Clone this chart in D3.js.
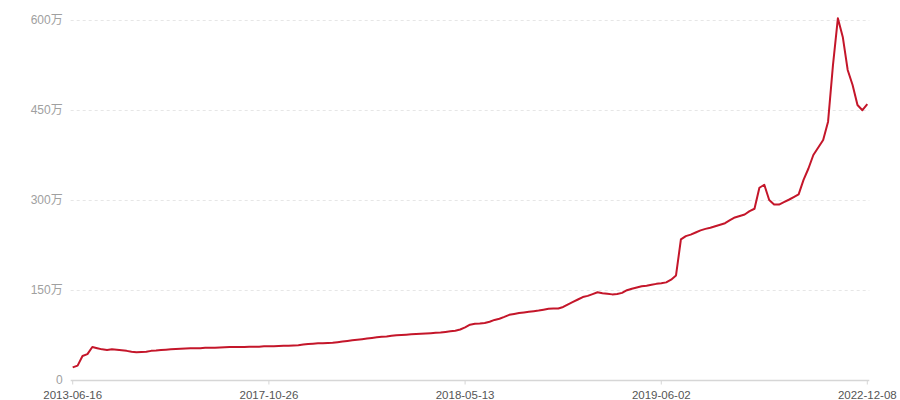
<!DOCTYPE html>
<html>
<head>
<meta charset="utf-8">
<script src="https://cdn.jsdelivr.net/npm/d3@7"></script>
<style>
  html, body { margin: 0; padding: 0; background: #fff; }
  svg text { font-family: "Liberation Sans", "Noto Sans CJK SC", sans-serif; }
</style>
</head>
<body>
<svg id="chart"></svg>
<script>
// values in 万, one per sample (evenly spaced on the category axis)
const values = [
  21, 24, 40, 43, 55, 53, 51, 50, 51, 50.5,
  49.5, 48.5, 47, 46, 46.5, 47, 48.5, 49, 50, 50.5,
  51, 51.5, 52, 52.5, 53, 53, 53, 53.5, 53.5, 53.5,
  54, 54.5, 55, 55, 55, 55, 55.5, 55.5, 55.5, 56,
  56, 56, 56.5, 57, 57, 57.5, 58, 59, 60, 60.5,
  61, 61, 61.5, 62, 63, 64, 65, 66, 67, 68,
  69, 70, 71, 72, 72.5, 73.5, 74.5, 75, 75.5, 76,
  76.5, 77, 77.5, 78, 78.5, 79, 80, 81, 82, 84,
  87.5, 92, 93.5, 94, 95, 97, 100, 102, 105, 108.5,
  110, 111.5, 112.5, 113.5, 114.5, 115.5, 117, 118.5, 119, 119,
  121.5, 126, 130, 134, 138, 140, 143, 146, 144.5, 143.5,
  142.5, 143, 145, 149.5, 152, 154, 156, 157, 158.5, 160,
  161, 162.5, 167, 174, 234, 239.5, 242, 245.5, 249, 251.5,
  253.5, 256, 258.5, 261, 266, 270.5, 273, 275.5, 281, 285,
  320, 325, 299.5, 292, 292, 296, 300, 304.5, 309, 333,
  352, 374.5, 387, 399.5, 430, 524, 602, 571, 516, 491,
  457.7, 449, 459
];
// x-axis labels and the sample index they sit on
const tickLabels = ["2013-06-16", "2017-10-26", "2018-05-13", "2019-06-02", "2022-12-08"];
const tickIndex = [0, 40, 80, 120, 162];
const yTicks = [0, 150, 300, 450, 600];

const width = 900, height = 400;
const margin = { top: 19.5, right: 32.7, bottom: 20, left: 72.7 };

const svg = d3.select("#chart")
    .attr("width", width)
    .attr("height", height);

const x = d3.scaleLinear()
    .domain([0, values.length - 1])
    .range([margin.left, width - margin.right]);

const y = d3.scaleLinear()
    .domain([0, 600])
    .range([height - margin.bottom, margin.top]);

// dashed split lines
svg.append("g")
    .selectAll("line")
    .data(yTicks.filter(d => d > 0))
    .join("line")
    .attr("x1", margin.left - 2)
    .attr("x2", width - margin.right + 2)
    .attr("y1", d => Math.round(y(d)) + 0.5)
    .attr("y2", d => Math.round(y(d)) + 0.5)
    .attr("stroke", "#e6e6e6")
    .attr("stroke-dasharray", "3,3");

// y labels
svg.append("g")
    .selectAll("text")
    .data(yTicks)
    .join("text")
    .attr("x", margin.left - 10)
    .attr("y", d => y(d))
    .attr("dy", "0.35em")
    .attr("text-anchor", "end")
    .attr("fill", "#a0a0a0")
    .attr("font-size", 12)
    .text(d => d === 0 ? "0" : d + "万");

// x axis
const xAxis = svg.append("g")
    .attr("transform", `translate(0,${Math.round(y(0)) + 0.5})`);

xAxis.append("line")
    .attr("x1", margin.left - 2)
    .attr("x2", width - margin.right + 2)
    .attr("stroke", "#d6d6d6")
    .attr("stroke-width", 1.5);

const ticks = xAxis.selectAll(".tick")
    .data(tickLabels)
    .join("g")
    .attr("class", "tick")
    .attr("transform", (d, i) => `translate(${x(tickIndex[i])},0)`);

ticks.append("line")
    .attr("y2", 4)
    .attr("stroke", "#d6d6d6");

ticks.append("text")
    .attr("y", 14)
    .attr("dy", "0.35em")
    .attr("text-anchor", "middle")
    .attr("fill", "#555")
    .attr("font-size", 11.5)
    .text(d => d);

// series line
const line = d3.line()
    .x((d, i) => x(i))
    .y(d => y(d));

svg.append("path")
    .datum(values)
    .attr("fill", "none")
    .attr("stroke", "#c4162a")
    .attr("stroke-width", 2)
    .attr("stroke-linejoin", "round")
    .attr("d", line);
</script>
</body>
</html>
